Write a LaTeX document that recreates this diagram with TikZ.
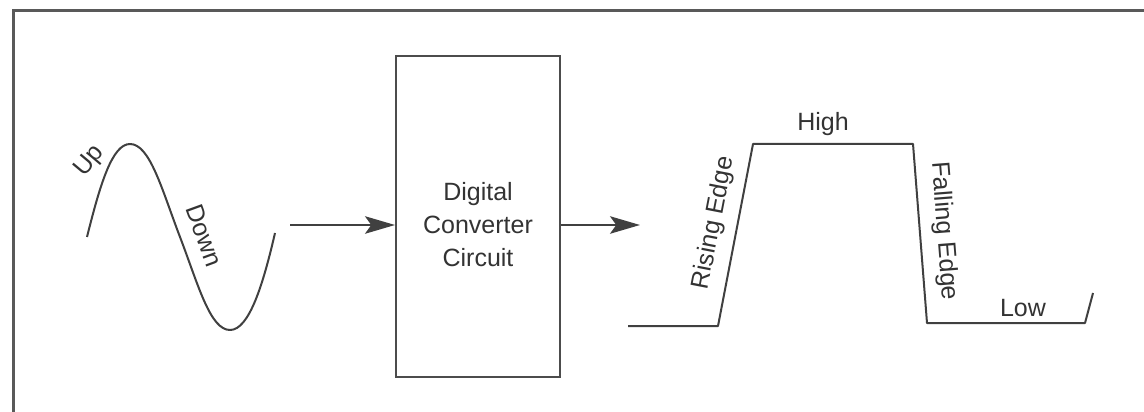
\documentclass[tikz,border=0pt]{standalone}
\usepackage{fontspec}
\setmainfont{Liberation Sans}
\usetikzlibrary{arrows.meta}

\begin{document}
\begin{tikzpicture}[
    x=0.4pt,y=-0.4pt,font=\fontsize{10}{13.2}\selectfont,
    trace/.style={draw=black!75,line width=0.8pt,line join=round},
    frame/.style={draw=black!65,line width=1.2pt},
    signal/.style={-{Stealth[length=12pt,width=7pt,inset=2.5pt]},draw=black!75,line width=0.7pt},
    convbox/.style={draw=black!70,line width=0.8pt,minimum width=65.6pt,minimum height=128.4pt,inner sep=0pt},
    tag/.style={text=black!80,inner sep=1pt}
]
\useasboundingbox (0,0) rectangle (1144,412);
% Page frame, top and left only.
\draw[frame] (13,412) -- (13,11) -- (1144,11);
% Analog input wave.
\draw[trace] (87,237)
    .. controls (100,185) and (112,144) .. (130,144)
    .. controls (150,144) and (162,190) .. (180,237)
    .. controls (198,284) and (210,330) .. (230,330)
    .. controls (249,330) and (263,285) .. (275,233);
\node[tag,rotate=50] (up) at (90,161) {Up};
\node[tag,rotate=-70] (down) at (204,236) {Down};
% Converter block.
\node[convbox] (conv) at (478,216.5) {};
\node[tag,align=center] (convtext) at (478,225) {Digital\\Converter\\Circuit};
\coordinate (sineout) at (290,225);
\coordinate (digin) at (640,225);
\draw[signal] (sineout) -- (sineout -| conv.west);
\draw[signal] (conv.east |- digin) -- (digin);
% Digital output wave.
\coordinate (lowa) at (628,326);
\coordinate (risebot) at (718,326);
\coordinate (risetop) at (753,144);
\coordinate (falltop) at (913,144);
\coordinate (fallbot) at (927,323);
\coordinate (lowb) at (1085,323);
\coordinate (tick) at (1093,293);
\draw[trace] (lowa) -- (risebot) -- (risetop) -- (falltop) -- (fallbot) -- (lowb) -- (tick);
\node[tag,rotate=79] (rising) at (714,223) {Rising Edge};
\node[tag] (high) at (823,124) {High};
\node[tag,rotate=-85.5] (falling) at (944,231) {Falling Edge};
\node[tag] (low) at (1023,308) {Low};
\end{tikzpicture}
\end{document}
